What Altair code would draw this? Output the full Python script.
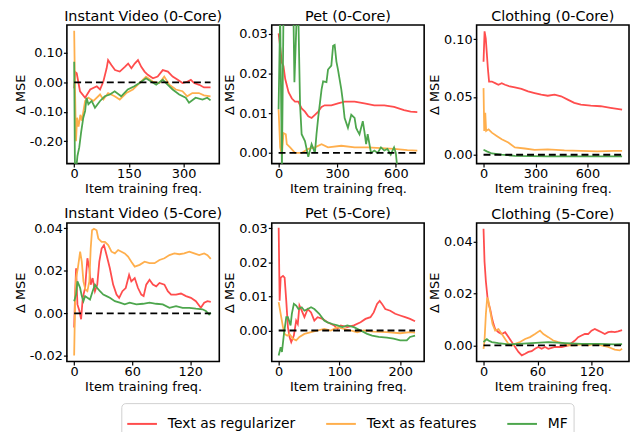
import altair as alt
import pandas as pd

series_names = ["Text as regularizer", "Text as features", "MF"]
colors = ["#FF4D4D", "#FFAF4D", "#4DA64D"]

titles = ["Instant Video (0-Core)", "Pet (0-Core)", "Clothing (0-Core)",
          "Instant Video (5-Core)", "Pet (5-Core)", "Clothing (5-Core)"]

# ---------- Instant Video (0-Core)
iv0_reg_x = [0, 3, 7, 16, 30, 44, 62, 71, 80, 89, 93, 102, 112, 125, 139, 148, 157, 166, 175, 184, 193, 202, 216, 229, 243, 257, 270, 284, 297, 311, 320, 329, 343, 356, 374]
iv0_reg_y = [-0.02, 0.035, 0.031, -0.030, -0.052, -0.024, -0.013, -0.024, 0.003, 0.048, 0.076, 0.059, 0.042, 0.037, 0.053, 0.064, 0.048, 0.064, 0.076, 0.053, 0.037, 0.026, 0.014, 0.020, 0.042, 0.037, 0.020, 0.009, -0.002, 0.003, 0.009, -0.002, -0.008, -0.017, -0.017]
iv0_feat_x = [0, 2, 5, 8, 12, 17, 21, 30, 39, 53, 71, 80, 93, 111, 125, 143, 161, 179, 197, 215, 234, 247, 261, 279, 297, 310, 324, 342, 356, 374]
iv0_feat_y = [0.176, 0.0, -0.2, -0.12, -0.15, -0.11, -0.13, -0.063, -0.052, -0.063, -0.041, -0.058, -0.036, -0.047, -0.058, -0.036, -0.024, -0.002, 0.020, 0.003, -0.002, 0.020, -0.008, -0.024, -0.030, -0.047, -0.036, -0.036, -0.044, -0.047]
iv0_mf_x = [0, 2, 5, 9, 14, 19, 25, 30, 34, 39, 48, 57, 71, 84, 98, 111, 129, 147, 165, 179, 197, 211, 225, 243, 252, 270, 288, 306, 315, 333, 352, 365, 374]
iv0_mf_y = [0.07, -0.28, -0.30, -0.25, -0.22, -0.17, -0.12, -0.097, -0.052, -0.074, -0.063, -0.086, -0.063, -0.047, -0.041, -0.030, -0.047, -0.024, -0.013, -0.002, 0.014, 0.003, -0.008, 0.009, -0.002, -0.024, -0.041, -0.052, -0.069, -0.052, -0.058, -0.052, -0.061]

# ---------- Pet (0-Core)
pet0_reg_x = [0, 8, 17, 25, 34, 51, 68, 84, 101, 118, 135, 152, 169, 186, 203, 220, 236, 270, 304, 338, 389, 439, 490, 541, 591, 642, 676, 710]
pet0_reg_y = [0.0301, 0.0268, 0.0227, 0.0219, 0.0186, 0.0153, 0.0137, 0.0129, 0.0129, 0.0112, 0.0104, 0.0092, 0.0088, 0.0096, 0.0104, 0.0116, 0.0120, 0.0120, 0.0125, 0.0129, 0.0129, 0.0125, 0.0120, 0.0120, 0.0116, 0.0108, 0.0104, 0.0103]
pet0_feat_x = [0, 8, 17, 25, 37, 42, 59, 84, 118, 152, 186, 220, 253, 321, 389, 456, 524, 591, 659, 710]
pet0_feat_y = [0.011, 0.0014, -0.0005, 0.005, 0.0047, 0.0022, 0.0014, 0.0, 0.0, 0.0010, 0.0014, 0.0022, 0.0014, 0.0018, 0.0014, 0.0014, 0.0012, 0.0010, 0.0007, 0.0006]
pet0_mf_x = [0, 8, 17, 25, 42, 76, 81, 93, 101, 110, 118, 135, 152, 169, 186, 194, 203, 220, 228, 245, 253, 270, 279, 287, 296, 304, 321, 329, 338, 355, 372, 389, 397, 405, 414, 431, 439, 448, 456, 473, 490, 507, 524, 541, 557, 574, 591, 600, 608]
pet0_mf_y = [0.011, 0.035, -0.004, 0.035, 0.035, 0.035, 0.0178, 0.035, 0.035, 0.012, 0.0047, 0.003, -0.001, 0.0022, 0.0, 0.0047, 0.009, 0.016, 0.018, 0.0178, 0.021, 0.022, 0.027, 0.0272, 0.023, 0.021, 0.016, 0.013, 0.0088, 0.0063, 0.0096, 0.0088, 0.0063, 0.0055, 0.0047, 0.008, 0.0055, 0.0022, 0.0047, 0.0, 0.0006, 0.0, 0.0014, 0.0006, 0.001, -0.0004, 0.0014, 0.0, -0.004]

# ---------- Clothing (0-Core)
clo0_reg_x = [0, 6, 13, 25, 32, 48, 67, 86, 105, 124, 152, 181, 219, 257, 295, 333, 371, 410, 448, 486, 524, 562, 619, 676, 733, 800]
clo0_reg_y = [0.0806, 0.1069, 0.1006, 0.0749, 0.0634, 0.0634, 0.0620, 0.0606, 0.0620, 0.0606, 0.0591, 0.0583, 0.0571, 0.0549, 0.0534, 0.0520, 0.0511, 0.0520, 0.0506, 0.0477, 0.0449, 0.0434, 0.0426, 0.0420, 0.0406, 0.0391]
clo0_feat_x = [0, 4, 10, 15, 29, 48, 76, 105, 143, 181, 238, 295, 371, 467, 562, 657, 752, 800]
clo0_feat_y = [0.0577, 0.0206, 0.0363, 0.0206, 0.0220, 0.0191, 0.0163, 0.0134, 0.0106, 0.0063, 0.0054, 0.0043, 0.0046, 0.0037, 0.0034, 0.0029, 0.0034, 0.0034]
clo0_mf_x = [0, 19, 48, 105, 181, 371, 562, 800]
clo0_mf_y = [0.0043, 0.0029, 0.0011, 0.0, -0.0009, -0.0014, -0.0014, -0.0014]

# ---------- Instant Video (5-Core)
iv5_reg_x = [0, 1, 2, 3.4, 5.5, 7.2, 8.9, 11.3, 13.7, 15.7, 17.1, 19.1, 21.5, 23.9, 26, 28.4, 30.8, 33.5, 36.9, 40.3, 43.8, 46.5, 49.9, 53.3, 56.8, 59.1, 62.6, 66, 69.4, 71.8, 74.5, 77.9, 81.4, 84.8, 88.2, 93.3, 96.8, 100.2, 105.3, 110.4, 115.6, 120.7, 125.8, 130.9, 134.4, 137.8, 141.2]
iv5_reg_y = [-0.0067, 0.0088, 0.0212, 0.0042, 0.0011, -0.0028, 0.0073, 0.0119, 0.0259, 0.0212, 0.0135, 0.0166, 0.0104, 0.0135, 0.0243, 0.0305, 0.0321, 0.0274, 0.0212, 0.0135, 0.0088, 0.0073, 0.0104, 0.0119, 0.0181, 0.0150, 0.0166, 0.0119, 0.0088, 0.0081, 0.0135, 0.0158, 0.0135, 0.0127, 0.0143, 0.0135, 0.0104, 0.0088, 0.0088, 0.0093, 0.0081, 0.0073, 0.0057, 0.0026, 0.0050, 0.0057, 0.0054]
iv5_feat_x = [0, 1, 2, 3.8, 6.2, 7.9, 9.6, 11.6, 13.7, 15.7, 17.1, 18.5, 20.5, 23.2, 25, 28.4, 31.8, 35.2, 38.6, 42.1, 45.5, 48.9, 52.3, 55.7, 59.1, 62.6, 67.7, 72.8, 77.9, 83.1, 88.2, 93.3, 98.5, 103.6, 108.7, 113.8, 119, 124.1, 129.2, 134.4, 137.8, 141.2]
iv5_feat_y = [-0.0198, 0.0057, 0.0166, 0.0212, 0.0290, 0.0243, 0.0150, 0.0112, 0.0104, 0.0150, 0.0305, 0.0391, 0.0398, 0.0391, 0.0352, 0.0336, 0.0336, 0.0321, 0.0290, 0.0282, 0.0298, 0.0290, 0.0282, 0.0267, 0.0243, 0.0220, 0.0228, 0.0243, 0.0236, 0.0236, 0.0251, 0.0259, 0.0274, 0.0282, 0.0278, 0.0282, 0.0290, 0.0282, 0.0274, 0.0282, 0.0274, 0.0256]
iv5_mf_x = [0, 2, 3.4, 4.8, 6.2, 7.9, 9.6, 11.3, 13.7, 16.4, 19.1, 21.5, 23.9, 26.7, 30.1, 33.5, 36.9, 42.1, 47.2, 52.3, 57.4, 64.3, 71.1, 77.9, 84.8, 91.6, 98.5, 105.3, 112.1, 119, 125.8, 132.6, 136.1, 139.5, 141.2]
iv5_mf_y = [0.0057, 0.0088, 0.0150, 0.0135, 0.0119, 0.0081, 0.0057, 0.0081, 0.0073, 0.0065, 0.0104, 0.0135, 0.0119, 0.0104, 0.0088, 0.0081, 0.0073, 0.0057, 0.0050, 0.0042, 0.0050, 0.0042, 0.0045, 0.0050, 0.0045, 0.0042, 0.0026, 0.0034, 0.0026, 0.0026, 0.0022, 0.0019, 0.0011, -0.0005, 0.0003]

# ---------- Pet (5-Core)
pet5_reg_x = [0, 1.6, 3.3, 7.1, 9.8, 12.5, 15.2, 17.9, 20.7, 25, 28.8, 31.5, 34.2, 38, 42.4, 47.8, 53.3, 58.7, 64.1, 72.3, 80.4, 91.3, 96.7, 102.2, 113, 123.9, 134.8, 142.9, 151.1, 156.5, 162, 166.3, 170.1, 175.5, 183.7, 191.8, 200, 208.2, 216.3, 224.5]
pet5_reg_y = [0.0301, 0.0087, 0.0155, 0.0160, 0.0155, 0.0087, 0.0010, -0.0019, -0.0034, -0.0015, 0.0029, 0.0019, 0.0073, 0.0058, 0.0039, 0.0063, 0.0053, 0.0029, 0.0039, 0.0034, 0.0024, 0.0015, 0.0005, 0.0015, 0.0010, 0.0015, 0.0024, 0.0034, 0.0039, 0.0053, 0.0078, 0.0087, 0.0078, 0.0063, 0.0058, 0.0049, 0.0044, 0.0039, 0.0034, 0.0027]
pet5_feat_x = [0, 3.3, 7.1, 9.8, 14.1, 17.9, 23.4, 28.8, 34.2, 42.4, 53.3, 64.1, 75, 85.9, 96.7, 107.6, 118.5, 129.3, 140.2, 156.5, 178.3, 200, 216.3, 224.5]
pet5_feat_y = [0.0083, 0.0049, 0.0010, -0.0010, -0.0015, -0.0010, -0.0024, -0.0029, -0.0019, -0.0010, -0.0005, 0.0, 0.0005, 0.0, 0.0010, 0.0005, 0.0, -0.0005, 0.0, -0.0003, -0.0005, -0.0008, -0.0005, -0.0006]
pet5_mf_x = [0, 3.3, 5.4, 8.7, 12.5, 15.2, 19.6, 21.7, 25, 28.8, 32.6, 38, 42.4, 47.8, 53.3, 58.7, 66.8, 75, 80.4, 88.6, 96.7, 104.9, 113, 123.9, 134.8, 145.7, 153.8, 164.7, 178.3, 189.1, 200, 210.9, 216.3, 224.5]
pet5_mf_y = [-0.0073, -0.0049, -0.0063, -0.0010, 0.0039, 0.0039, 0.0015, 0.0049, 0.0078, 0.0073, 0.0063, 0.0068, 0.0058, 0.0063, 0.0068, 0.0063, 0.0049, 0.0029, 0.0024, 0.0019, 0.0015, 0.0010, 0.0015, 0.0010, 0.0, -0.0010, -0.0015, -0.0019, -0.0021, -0.0024, -0.0029, -0.0029, -0.0019, -0.0015]

# ---------- Clothing (5-Core)
clo5_reg_x = [0, 1.1, 2.6, 4.8, 7.4, 9.2, 11.1, 12.9, 16.6, 20.3, 24, 27.7, 31.4, 35.1, 38.8, 42.5, 46.2, 49.9, 53.5, 57.2, 60.9, 64.6, 68.3, 72, 75.7, 79.4, 86.8, 94.2, 101.6, 105.2, 108.9, 112.6, 116.3, 120, 123.7, 127.4, 131.1, 134.8, 138.5, 142.2, 145.9, 149.6, 154]
clo5_reg_y = [0.0449, 0.0323, 0.0247, 0.0171, 0.0139, 0.0108, 0.0082, 0.0063, 0.0051, 0.0044, 0.0051, 0.0032, 0.0013, -0.0006, -0.0025, -0.0038, -0.0032, -0.0025, -0.0022, -0.0013, -0.0006, -0.0013, -0.0006, -0.0013, -0.0009, -0.0006, -0.0006, 0.0, 0.0019, 0.0032, 0.0038, 0.0044, 0.0044, 0.0057, 0.0063, 0.0057, 0.0051, 0.0044, 0.0051, 0.0053, 0.0051, 0.0054, 0.0059]
clo5_feat_x = [0, 1.1, 2.6, 4.1, 5.5, 7.4, 10, 12.9, 16.6, 20.3, 24, 27.7, 31.4, 35.1, 40.6, 46.2, 51.7, 57.2, 62.8, 66.5, 72, 77.5, 83.1, 88.6, 94.2, 101.6, 108.9, 116.3, 123.7, 131.1, 138.5, 145.9, 151.4, 154]
clo5_feat_y = [-0.0013, 0.0019, 0.0120, 0.0184, 0.0171, 0.0133, 0.0082, 0.0057, 0.0063, 0.0044, 0.0025, 0.0006, 0.0, 0.0006, 0.0013, 0.0025, 0.0032, 0.0044, 0.0057, 0.0044, 0.0032, 0.0019, 0.0013, 0.0009, 0.0, 0.0, 0.0004, 0.0, 0.0006, 0.0, -0.0006, -0.0016, -0.0019, -0.0013]
clo5_mf_x = [0, 1.8, 3.7, 5.5, 9.2, 16.6, 27.7, 38.8, 53.5, 72, 90.5, 108.9, 127.4, 145.9, 154]
clo5_mf_y = [0.0013, 0.0019, 0.0024, 0.0019, 0.0013, 0.0009, 0.0004, 0.0006, 0.0009, 0.0013, 0.0009, 0.0006, 0.0006, 0.0004, 0.0005]

# ---------- axes: domains and ticks
x_domains = [[-20, 398], [-35, 745], [-40, 840], [-7.5, 150], [-11.4, 239.5], [-7.7, 161.7]]
y_domains = [[-0.276, 0.195], [-0.0027, 0.0322], [-0.0077, 0.1123],
             [-0.0227, 0.0425], [-0.0091, 0.0315], [-0.0062, 0.0471]]
x_ticks = [[0, 150, 300], [0, 300, 600], [0, 300, 600], [0, 60, 120], [0, 100, 200], [0, 60, 120]]
x_tick_labels = [["0", "150", "300"], ["0", "300", "600"], ["0", "300", "600"],
                 ["0", "60", "120"], ["0", "100", "200"], ["0", "60", "120"]]
y_ticks = [[-0.2, -0.1, 0.0, 0.1], [0.0, 0.01, 0.02, 0.03], [0.0, 0.025, 0.05, 0.075, 0.1],
           [-0.02, 0.0, 0.02, 0.04], [0.0, 0.01, 0.02, 0.03], [0.0, 0.02, 0.04]]
y_tick_labels = [["-0.20", "-0.10", "0.00", "0.10"], ["0.00", "0.01", "0.02", "0.03"],
                 ["0.00", "0.03", "0.05", "0.08", "0.10"], ["-0.02", "0.00", "0.02", "0.04"],
                 ["0.00", "0.01", "0.02", "0.03"], ["0.00", "0.02", "0.04"]]

panels_data = [
    [(iv0_reg_x, iv0_reg_y), (iv0_feat_x, iv0_feat_y), (iv0_mf_x, iv0_mf_y)],
    [(pet0_reg_x, pet0_reg_y), (pet0_feat_x, pet0_feat_y), (pet0_mf_x, pet0_mf_y)],
    [(clo0_reg_x, clo0_reg_y), (clo0_feat_x, clo0_feat_y), (clo0_mf_x, clo0_mf_y)],
    [(iv5_reg_x, iv5_reg_y), (iv5_feat_x, iv5_feat_y), (iv5_mf_x, iv5_mf_y)],
    [(pet5_reg_x, pet5_reg_y), (pet5_feat_x, pet5_feat_y), (pet5_mf_x, pet5_mf_y)],
    [(clo5_reg_x, clo5_reg_y), (clo5_feat_x, clo5_feat_y), (clo5_mf_x, clo5_mf_y)],
]

FONT = "DejaVu Sans"
W, H = 154, 140


def label_expr(values, labels):
    parts = [f"abs(datum.value - ({v})) < 1e-9 ? '{l}'" for v, l in zip(values, labels)]
    return " : ".join(parts) + " : ''"


legend = alt.Legend(
    title=None, orient="none", legendX=55, legendY=382, direction="horizontal", columns=3,
    symbolType="stroke", symbolSize=900, symbolStrokeWidth=2, labelFontSize=14,
    labelFont=FONT, labelColor="black", labelOffset=10, columnPadding=27, padding=5,
    strokeColor="#d0d0d0", cornerRadius=4, fillColor="white",
)


def panel(i):
    rows = []
    for k, (xs, ys) in enumerate(panels_data[i]):
        for x, y in zip(xs, ys):
            rows.append({"x": x, "y": y, "s": series_names[k], "k": k})
    df = pd.DataFrame(rows)
    xmax = max(max(xs) for xs, _ in panels_data[i])
    zdf = pd.DataFrame({"x": [0, xmax], "y": [0.0, 0.0]})
    xs_ = alt.Scale(domain=x_domains[i], nice=False, zero=False)
    ys_ = alt.Scale(domain=y_domains[i], nice=False, zero=False)
    xax = alt.Axis(values=x_ticks[i], labelExpr=label_expr(x_ticks[i], x_tick_labels[i]),
                   title="Item training freq.")
    yax = alt.Axis(values=y_ticks[i], labelExpr=label_expr(y_ticks[i], y_tick_labels[i]),
                   title="Δ MSE")
    lines = alt.Chart(df).mark_line(strokeWidth=1.8, clip=True).encode(
        x=alt.X("x:Q", scale=xs_, axis=xax),
        y=alt.Y("y:Q", scale=ys_, axis=yax),
        color=alt.Color("s:N", scale=alt.Scale(domain=series_names, range=colors), legend=legend),
        detail="k:N",
    )
    zero = alt.Chart(zdf).mark_line(color="black", strokeDash=[7, 4], strokeWidth=1.8, clip=True).encode(
        x=alt.X("x:Q", scale=xs_), y=alt.Y("y:Q", scale=ys_)
    )
    return alt.layer(lines, zero).properties(
        width=W, height=H,
        title=alt.TitleParams(titles[i], fontSize=14.5, fontWeight="normal", font=FONT,
                              color="black", offset=0.5, frame="group", anchor="middle"),
    )


chart = alt.concat(*[panel(i) for i in range(6)], columns=3,
                   spacing=alt.RowColnumber(row=60, column=53), bounds="flush"
                   ).resolve_scale(color="shared").properties(
    padding={"left": 5.5, "top": -2, "right": 0, "bottom": 0}
).configure(font=FONT).configure_view(stroke="black", strokeWidth=1.6).configure_axis(
    grid=False, domain=False, ticks=True, tickSize=3.5, tickWidth=1.2, tickColor="black",
    labelFontSize=13, titleFontSize=13, labelFont=FONT, titleFont=FONT,
    labelColor="black", titleColor="black", titleFontWeight="normal",
    labelOverlap=False, labelFlush=False, labelBound=False,
).configure_axisX(labelPadding=1, titlePadding=2).configure_axisY(labelPadding=1, titlePadding=2)

chart.save("out.html", embed_options={"renderer": "svg", "actions": False})
